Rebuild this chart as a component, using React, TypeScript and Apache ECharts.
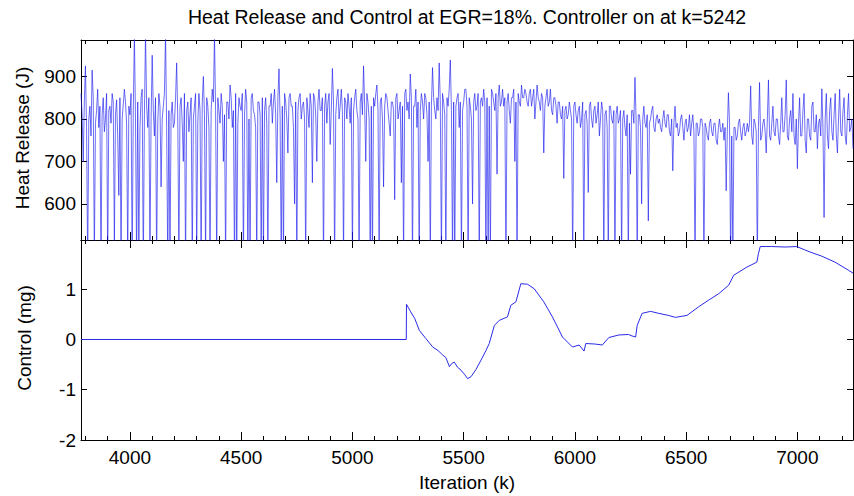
import React, { useEffect, useRef } from "react";
import * as echarts from "echarts";

// ---------- data ----------
const titleText = "Heat Release and Control at EGR=18%. Controller on at k=5242";
const heatYLabel = "Heat Release (J)";
const controlYLabel = "Control (mg)";
const xLabel = "Iteration (k)";

const kMin = 3780;
const kMax = 7250;
const kLabelValues = [4000, 4500, 5000, 5500, 6000, 6500, 7000];
const kMinorTicks = [3800, 3900, 4000, 4100, 4200, 4300, 4400, 4500, 4600, 4700, 4800, 4900, 5000, 5100, 5200, 5300, 5400, 5500, 5600, 5700, 5800, 5900, 6000, 6100, 6200, 6300, 6400, 6500, 6600, 6700, 6800, 6900, 7000, 7100, 7200];
const kMajorTicks = [4000, 4500, 5000, 5500, 6000, 6500, 7000];

const heatTicks = [600, 700, 800, 900];
const heatMin = 515;
const heatMax = 986;
const controlTicks = [-2, -1, 0, 1];
const controlMin = -2;
const controlMax = 1.98;

// heat release sampled every 5 iterations starting at k = 3780 (rows of 200 iterations)
const heatStartK = 3780;
const heatStepK = 5;
const heatValues = [
  860, 810, 700, 840, 925, 780, 450, 800, 830, 760, 915, 850, 470, 790, 820, 870, 780, 830, 440, 810, 850, 770, 800, 860, 460, 820, 830, 790, 860, 840, 500, 810, 845, 760, 620, 850, 460, 800, 835, 870,
  840, 790, 470, 830, 810, 860, 450, 820, 1000, 800, 460, 840, 480, 780, 850, 870, 440, 810, 1000, 830, 780, 850, 470, 800, 950, 820, 760, 850, 460, 790, 860, 830, 640, 800, 830, 860, 1000, 780, 450, 820,
  460, 810, 840, 780, 790, 850, 932, 800, 470, 830, 850, 790, 700, 860, 450, 820, 840, 770, 810, 850, 460, 800, 830, 860, 480, 790, 860, 820, 450, 840, 900, 810, 470, 850, 830, 780, 470, 820, 870, 840,
  1000, 820, 460, 850, 820, 790, 860, 830, 700, 810, 460, 840, 840, 800, 880, 850, 780, 820, 450, 860, 470, 790, 850, 830, 820, 860, 460, 810, 870, 840, 460, 800, 480, 850, 860, 820, 810, 780, 470, 840,
  840, 810, 460, 850, 470, 820, 850, 790, 460, 830, 830, 860, 790, 840, 870, 810, 650, 850, 918, 800, 460, 830, 470, 860, 840, 800, 720, 850, 860, 830, 830, 780, 600, 840, 460, 820, 850, 860, 800, 830,
  840, 800, 460, 850, 820, 780, 860, 830, 650, 860, 850, 810, 700, 840, 870, 820, 820, 850, 460, 830, 860, 790, 840, 860, 740, 820, 919, 840, 460, 810, 850, 870, 800, 830, 870, 820, 470, 850, 840, 800,
  860, 830, 790, 850, 470, 820, 850, 870, 820, 800, 460, 840, 860, 810, 925, 830, 700, 860, 840, 800, 450, 830, 460, 850, 830, 860, 880, 820, 470, 840, 850, 800, 640, 830, 860, 850, 820, 790, 760, 840,
  840, 820, 610, 850, 860, 800, 820, 840, 650, 830, 460, 860, 870, 820, 840, 800, 906, 850, 460, 830, 830, 870, 780, 840, 450, 820, 860, 840, 800, 860, 850, 810, 700, 840, 460, 830, 921, 850, 820, 800,
  850, 820, 932, 840, 460, 860, 840, 810, 470, 850, 830, 870, 939, 820, 460, 840, 480, 830, 850, 860, 780, 840, 460, 820, 840, 870, 870, 830, 460, 850, 830, 800, 600, 840, 860, 820, 830, 860, 460, 840,
  850, 830, 870, 840, 460, 850, 470, 830, 460, 870, 860, 840, 820, 860, 670, 850, 880, 830, 840, 870, 830, 850, 460, 840, 860, 820, 790, 850, 850, 870, 700, 840, 460, 860, 840, 830, 880, 850, 850, 870,
  860, 840, 830, 860, 870, 830, 850, 870, 800, 840, 880, 850, 840, 820, 860, 850, 720, 830, 850, 870, 830, 840, 870, 820, 810, 850, 850, 830, 790, 840, 840, 810, 800, 830, 660, 820, 830, 800, 810, 840,
  820, 800, 460, 830, 840, 810, 790, 820, 830, 780, 800, 840, 480, 810, 820, 790, 627, 830, 840, 800, 780, 820, 830, 790, 810, 840, 760, 800, 840, 820, 460, 810, 820, 780, 470, 830, 830, 800, 790, 820,
  460, 810, 830, 790, 800, 820, 470, 800, 820, 780, 760, 810, 460, 790, 670, 820, 820, 790, 898, 800, 460, 810, 810, 780, 600, 800, 830, 790, 780, 810, 560, 790, 800, 820, 830, 780, 770, 800, 810, 790,
  800, 780, 770, 800, 820, 790, 780, 810, 810, 770, 760, 800, 678, 790, 830, 780, 790, 760, 770, 800, 810, 780, 750, 790, 800, 770, 780, 810, 760, 790, 810, 770, 460, 790, 790, 760, 770, 800, 800, 780,
  460, 790, 780, 760, 750, 790, 800, 770, 760, 790, 790, 750, 740, 780, 800, 770, 770, 790, 750, 780, 631, 770, 862, 790, 460, 760, 470, 780, 780, 750, 760, 790, 800, 770, 750, 780, 790, 760, 770, 790,
  770, 790, 878, 760, 740, 800, 790, 770, 460, 780, 886, 750, 760, 790, 800, 770, 720, 800, 892, 760, 750, 790, 830, 770, 760, 800, 800, 760, 740, 790, 850, 770, 770, 810, 892, 760, 750, 800, 820, 770,
  860, 760, 740, 800, 683, 790, 850, 760, 760, 820, 860, 750, 720, 800, 800, 760, 750, 830, 840, 770, 770, 810, 730, 790, 800, 760, 871, 780, 568, 800, 860, 760, 730, 820, 850, 770, 750, 810, 860, 760,
  720, 800, 870, 770, 760, 820, 850, 760, 740, 810, 860, 770, 780, 800, 730,
];

const controlK = [
  3780, 5242, 5243, 5262, 5280, 5301, 5330, 5361, 5385, 5406, 5420, 5436, 5446, 5458, 5472, 5488, 5505, 5518, 5533, 5555,
  5578, 5600, 5615, 5638, 5660, 5697, 5712, 5735, 5757, 5787, 5817, 5860, 5899, 5944, 5989, 6019, 6041, 6049, 6090, 6123,
  6153, 6198, 6240, 6257, 6273, 6280, 6302, 6340, 6377, 6420, 6452, 6504, 6556, 6600, 6646, 6691, 6714, 6773, 6818, 6825,
  6833, 6885, 6945, 6997, 7035, 7070, 7109, 7169, 7229, 7250,
];
const controlU = [
  0, 0, 0.7, 0.55, 0.42, 0.18, 0.02, -0.15, -0.22, -0.31, -0.36, -0.54, -0.48, -0.45, -0.55, -0.61, -0.7, -0.78, -0.74, -0.6,
  -0.41, -0.22, -0.08, 0.28, 0.38, 0.45, 0.68, 0.75, 1.11, 1.1, 1.01, 0.75, 0.45, 0.05, -0.15, -0.11, -0.23, -0.08, -0.09, -0.11,
  0.04, 0.09, 0.1, 0.07, 0.05, 0.28, 0.52, 0.56, 0.52, 0.48, 0.44, 0.48, 0.65, 0.78, 0.91, 1.08, 1.28, 1.44, 1.54, 1.71,
  1.85, 1.85, 1.84, 1.85, 1.78, 1.72, 1.66, 1.54, 1.38, 1.32,
];

// ---------- layout ----------
const FONT = "'Liberation Sans', Arial, Helvetica, sans-serif";
const GRID_LEFT = 81;
const GRID_WIDTH = 772;
const TOP_GRID_TOP = 40;
const GRID_HEIGHT = 200;
const BOTTOM_GRID_TOP = 240;

function xAxisDef(gridIndex: number, position: "top" | "bottom", major: boolean, labels: boolean) {
  return {
    type: "value",
    gridIndex,
    position,
    min: kMin,
    max: kMax,
    axisLine: { show: !major, onZero: false, lineStyle: { color: "#000", width: 1 } },
    axisTick: {
      show: true,
      inside: true,
      length: major ? 8 : 4,
      customValues: major ? kMajorTicks : kMinorTicks,
      lineStyle: { color: "#000", width: 1 },
    },
    axisLabel: labels
      ? {
          show: true,
          customValues: kLabelValues,
          formatter: (v: number) => String(v),
          color: "#000",
          fontSize: 19,
          fontFamily: FONT,
          margin: 8,
        }
      : { show: false },
    splitLine: { show: false },
  };
}

function yAxisDef(gridIndex: number, position: "left" | "right", min: number, max: number, ticks: number[], labels: boolean) {
  return {
    type: "value",
    gridIndex,
    position,
    min,
    max,
    axisLine: { show: true, onZero: false, lineStyle: { color: "#000", width: 1 } },
    axisTick: { show: true, inside: true, length: 6, customValues: ticks, lineStyle: { color: "#000", width: 1 } },
    axisLabel: labels
      ? {
          show: true,
          customValues: ticks,
          formatter: (v: number) => String(v),
          color: "#000",
          fontSize: 19,
          fontFamily: FONT,
          margin: 5,
        }
      : { show: false },
    splitLine: { show: false },
  };
}

export default function App() {
  const ref = useRef<HTMLDivElement>(null);

  useEffect(() => {
    if (!ref.current) return;
    const chart = echarts.init(ref.current, undefined, { renderer: "svg" });

    const heatData = heatValues.map((v, i) => [heatStartK + i * heatStepK, v]);
    const controlData = controlK.map((k, i) => [k, controlU[i]]);

    chart.setOption({
      animation: false,
      backgroundColor: "#fff",
      grid: [
        { left: GRID_LEFT, top: TOP_GRID_TOP, width: GRID_WIDTH, height: GRID_HEIGHT },
        { left: GRID_LEFT, top: BOTTOM_GRID_TOP, width: GRID_WIDTH, height: GRID_HEIGHT },
      ],
      xAxis: [
        xAxisDef(0, "bottom", false, false),
        xAxisDef(0, "bottom", true, false),
        xAxisDef(0, "top", false, false),
        xAxisDef(0, "top", true, false),
        xAxisDef(1, "bottom", false, true),
        xAxisDef(1, "bottom", true, false),
        xAxisDef(1, "top", false, false),
        xAxisDef(1, "top", true, false),
      ],
      yAxis: [
        yAxisDef(0, "left", heatMin, heatMax, heatTicks, true),
        yAxisDef(0, "right", heatMin, heatMax, heatTicks, false),
        yAxisDef(1, "left", controlMin, controlMax, controlTicks, true),
        yAxisDef(1, "right", controlMin, controlMax, controlTicks, false),
      ],
      series: [
        {
          type: "line",
          xAxisIndex: 0,
          yAxisIndex: 0,
          data: heatData,
          showSymbol: false,
          clip: true,
          silent: true,
          lineStyle: { color: "#1a1aee", width: 0.8, opacity: 0.8 },
        },
        {
          type: "line",
          xAxisIndex: 4,
          yAxisIndex: 2,
          data: controlData,
          showSymbol: false,
          clip: true,
          silent: true,
          lineStyle: { color: "#2a2ae8", width: 1 },
        },
      ],
      graphic: [
        {
          type: "text",
          x: 467,
          y: 17,
          style: { text: titleText, fill: "#000", font: `19.5px ${FONT}`, align: "center", verticalAlign: "middle" },
        },
        {
          type: "text",
          x: 22,
          y: 138,
          rotation: Math.PI / 2,
          style: { text: heatYLabel, fill: "#000", font: `19px ${FONT}`, align: "center", verticalAlign: "middle" },
        },
        {
          type: "text",
          x: 24,
          y: 338,
          rotation: Math.PI / 2,
          style: { text: controlYLabel, fill: "#000", font: `19px ${FONT}`, align: "center", verticalAlign: "middle" },
        },
        {
          type: "text",
          x: 467,
          y: 482,
          style: { text: xLabel, fill: "#000", font: `19px ${FONT}`, align: "center", verticalAlign: "middle" },
        },
      ],
    });

    return () => chart.dispose();
  }, []);

  return (
    <div
      ref={ref}
      style={{ position: "fixed", left: 0, top: 0, width: 854, height: 496, background: "#fff" }}
    />
  );
}
